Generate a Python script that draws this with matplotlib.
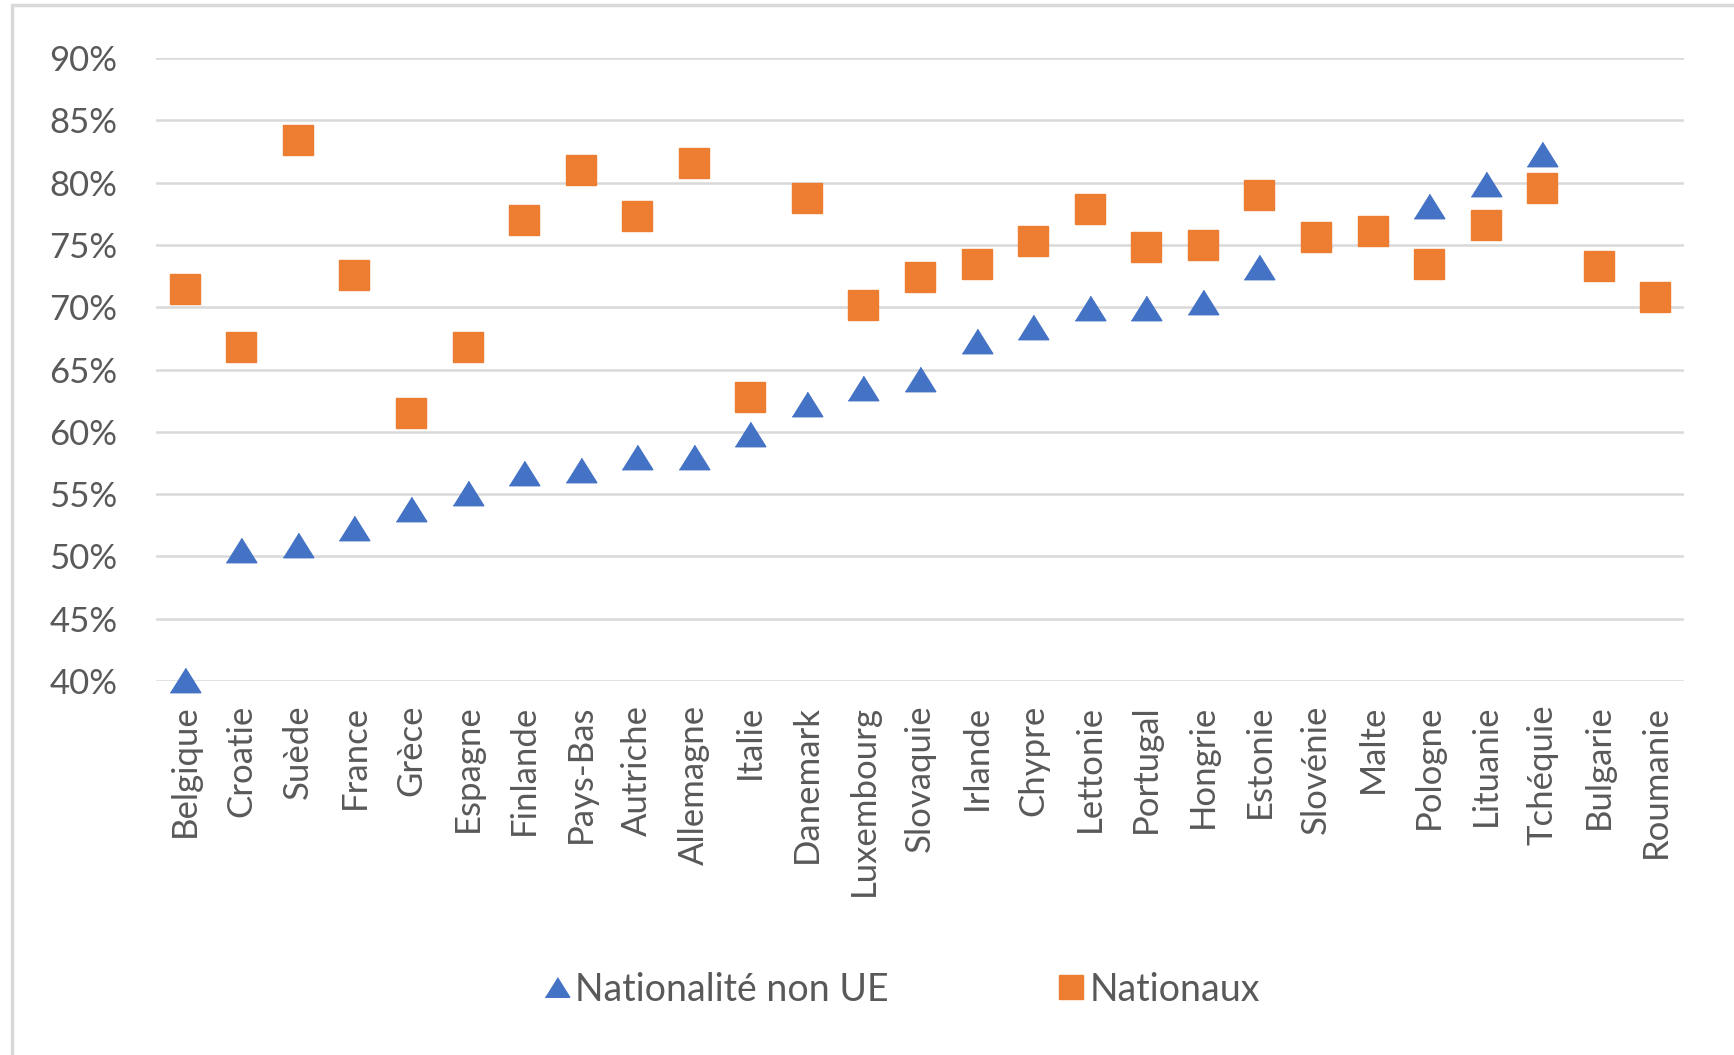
import matplotlib
matplotlib.use("Agg")
import matplotlib.pyplot as plt
from matplotlib.patches import Rectangle
from matplotlib.ticker import PercentFormatter

# pays
pays = ["Belgique", "Croatie", "Suède", "France", "Grèce", "Espagne", "Finlande",
        "Pays-Bas", "Autriche", "Allemagne", "Italie", "Danemark", "Luxembourg",
        "Slovaquie", "Irlande", "Chypre", "Lettonie", "Portugal", "Hongrie",
        "Estonie", "Slovénie", "Malte", "Pologne", "Lituanie", "Tchéquie",
        "Bulgarie", "Roumanie"]

# taux (%) - pas de valeur pour Bulgarie et Roumanie cote non UE
non_ue = [40.1, 50.5, 50.9, 52.3, 53.8, 55.1, 56.7, 56.9, 58.0, 58.0, 59.8, 62.2,
          63.5, 64.2, 67.3, 68.4, 69.9, 69.9, 70.4, 73.2, 75.8, 76.3, 78.1, 79.9,
          82.3, None, None]
nationaux = [71.5, 66.8, 83.4, 72.6, 61.5, 66.8, 77.0, 81.0, 77.3, 81.6, 62.8, 78.8,
             70.2, 72.4, 73.5, 75.3, 77.9, 74.8, 75.0, 79.0, 75.6, 76.1, 73.5, 76.6,
             79.6, 73.3, 70.8]

bleu = "#4472C4"
orange = "#ED7D31"
gris = "#595959"
tri = [(-1, -0.8), (1, -0.8), (0, 0.8)]  # triangle plus large que haut

plt.rcParams['font.family'] = ['Lato', 'DejaVu Sans']

fig = plt.figure(figsize=(17.34, 10.55), dpi=100)
ax = fig.add_axes([0.0902, 0.3545, 0.8808, 0.5905])

x = list(range(len(pays)))
xn = [i for i, v in zip(x, non_ue) if v is not None]
yn = [v for v in non_ue if v is not None]

ax.plot(xn, yn, linestyle="none", marker=tri, markersize=22, color=bleu,
        label="Nationalité non UE", zorder=3, clip_on=False)
ax.plot(x, nationaux, linestyle="none", marker="s", markersize=21.5, color=orange,
        label="Nationaux", zorder=4, clip_on=False)

ax.set_xlim(-0.5, len(pays) - 0.5)
ax.set_ylim(40, 90)
ax.set_yticks(range(40, 91, 5))
ax.yaxis.set_major_formatter(PercentFormatter(decimals=0))
ax.set_xticks(x)
ax.set_xticklabels(pays, rotation=90)
ax.tick_params(axis="both", length=0, labelsize=25, labelcolor=gris)
ax.tick_params(axis="y", pad=28)
ax.tick_params(axis="x", pad=17)
ax.grid(axis="y", color="#D9D9D9", linewidth=1.8)
ax.set_axisbelow(True)
for s in ax.spines.values():
    s.set_visible(False)

leg = fig.legend(loc="center", bbox_to_anchor=(0.52, 0.062), ncol=2, frameon=False,
                 fontsize=27, labelcolor=gris, markerscale=0.8, handlelength=0.7,
                 handletextpad=0.15, columnspacing=4.5)

# cadre gris du graphique
fig.patches.append(Rectangle((0.007, -0.01), 1.0, 1.005, transform=fig.transFigure,
                             fill=False, edgecolor="#D9D9D9", linewidth=2.5))

fig.savefig("out.png", dpi=100)
